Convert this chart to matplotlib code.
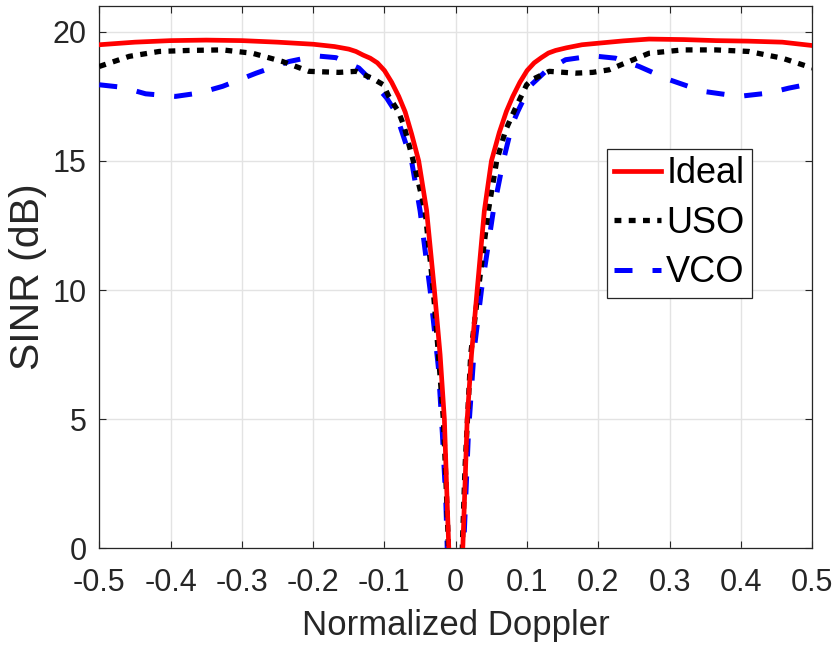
import numpy as np
import matplotlib
matplotlib.use("Agg")
import matplotlib.pyplot as plt

# SINR vs normalized Doppler
ideal_x = [-0.5, -0.45, -0.4, -0.35, -0.3, -0.25, -0.2, -0.17, -0.15, -0.14, -0.13, -0.12,
           -0.11, -0.10, -0.09, -0.08, -0.071, -0.062, -0.052, -0.041, -0.030, -0.022,
           -0.016, -0.013, -0.0098, -0.006,
           0.006, 0.0098, 0.013, 0.016, 0.022, 0.030, 0.040, 0.050, 0.061, 0.071, 0.08,
           0.09, 0.10, 0.11, 0.12, 0.13, 0.14, 0.155, 0.177, 0.2, 0.235, 0.271, 0.32,
           0.365, 0.41, 0.458, 0.5]
ideal_y = [19.5, 19.6, 19.66, 19.68, 19.66, 19.6, 19.52, 19.43, 19.33, 19.24, 19.1, 18.98,
           18.8, 18.5, 18.05, 17.5, 16.9, 16.05, 15.0, 13.1, 10.0, 7.5,
           5.0, 2.5, 0.0, -3.0,
           -3.0, 0.0, 2.5, 5.0, 7.5, 10.0, 13.06, 15.0, 16.1, 16.92, 17.5,
           18.05, 18.5, 18.8, 19.0, 19.18, 19.28, 19.38, 19.5, 19.56, 19.65, 19.72, 19.7,
           19.66, 19.64, 19.6, 19.47]

uso_x = [-0.5, -0.458, -0.416, -0.374, -0.327, -0.285, -0.243, -0.206, -0.164, -0.14,
         -0.117, -0.1017, -0.094, -0.0806, -0.0725, -0.0596, -0.043, -0.0316, -0.0244,
         -0.0174, -0.014, -0.0108, -0.007,
         0.007, 0.0093, 0.013, 0.0163, 0.021, 0.0316, 0.0456, 0.0573, 0.07, 0.083, 0.0994,
         0.107, 0.131, 0.168, 0.192, 0.215, 0.234, 0.271, 0.318, 0.365, 0.411, 0.458, 0.5]
uso_y = [18.66, 19.05, 19.24, 19.28, 19.3, 19.17, 18.85, 18.47, 18.43, 18.47,
         18.2, 17.95, 17.5, 16.92, 16.34, 15.0, 13.06, 10.0, 7.53,
         4.98, 2.76, 0.45, -3.0,
         -3.0, 0.2, 3.15, 4.95, 7.53, 10.0, 13.06, 15.0, 16.2, 17.0, 17.95,
         18.15, 18.47, 18.4, 18.43, 18.53, 18.75, 19.17, 19.3, 19.3, 19.24, 18.98, 18.6]

vco_x = [-0.5, -0.467, -0.435, -0.393, -0.36, -0.327, -0.28, -0.234, -0.196, -0.168,
         -0.136, -0.117, -0.097, -0.085, -0.062, -0.05, -0.036, -0.0244, -0.0188, -0.014,
         -0.012, -0.008,
         0.008, 0.011, 0.0177, 0.0257, 0.036, 0.0526, 0.0666, 0.079, 0.087, 0.104, 0.126,
         0.154, 0.192, 0.224, 0.257, 0.299, 0.346, 0.397, 0.439, 0.467, 0.5]
vco_y = [17.95, 17.85, 17.6, 17.5, 17.63, 17.89, 18.4, 18.85, 19.07, 19.0,
         18.6, 18.08, 17.44, 16.92, 15.0, 13.06, 10.0, 7.0, 4.44, 1.86,
         0.0, -3.0,
         -3.0, 0.0, 4.44, 7.66, 10.0, 13.06, 15.0, 16.4, 16.92, 17.9, 18.47,
         18.92, 19.07, 18.98, 18.66, 18.15, 17.7, 17.5, 17.63, 17.82, 18.0]

xticks = [-0.5, -0.4, -0.3, -0.2, -0.1, 0, 0.1, 0.2, 0.3, 0.4, 0.5]
xtick_labels = ["-0.5", "-0.4", "-0.3", "-0.2", "-0.1", "0", "0.1", "0.2", "0.3", "0.4", "0.5"]
yticks = [0, 5, 10, 15, 20]

plt.rcParams['font.family'] = ['Liberation Sans', 'DejaVu Sans']
plt.rcParams['axes.unicode_minus'] = False

fig = plt.figure(figsize=(8.4, 6.47), dpi=100)
ax = fig.add_axes([0.1182, 0.1526, 0.8488, 0.8381])

text_col = '#262626'

l_vco, = ax.plot(vco_x, vco_y, color='#0000ff', lw=3.6, dashes=(3.6, 4.0),
                 dash_capstyle='butt', zorder=3)
l_uso, = ax.plot(uso_x, uso_y, color='black', lw=3.8, dashes=(1.3, 1.4),
                 dash_capstyle='butt', zorder=4)
l_ideal, = ax.plot(ideal_x, ideal_y, color='#ff0000', lw=3.4, zorder=5)

ax.set_xlim(-0.5, 0.5)
ax.set_ylim(0, 21)
ax.set_xticks(xticks)
ax.set_xticklabels(xtick_labels)
ax.set_yticks(yticks)
ax.grid(True, color='#e3e3e3', lw=1.0)
ax.set_axisbelow(True)

ax.tick_params(direction='in', length=5, width=0.8, colors=text_col, labelsize=22,
               top=True, right=True)
ax.tick_params(axis='x', pad=14)
ax.tick_params(axis='y', pad=9)
for sp in ax.spines.values():
    sp.set_color(text_col)
    sp.set_linewidth(0.9)

ax.set_xlabel("Normalized Doppler", fontsize=25, color=text_col, labelpad=8)
ax.set_ylabel("SINR (dB)", fontsize=29.5, color=text_col, labelpad=4)

leg = ax.legend([l_ideal, l_uso, l_vco], ["Ideal", "USO", "VCO"],
                loc='upper right', bbox_to_anchor=(0.9154, 0.736), fontsize=26,
                frameon=True, fancybox=False, framealpha=1, edgecolor=text_col,
                handlelength=1.3, handletextpad=0.15, labelspacing=0.4,
                borderpad=0.2, borderaxespad=0)
leg.get_frame().set_linewidth(0.9)

fig.savefig("out.png", dpi=100)
